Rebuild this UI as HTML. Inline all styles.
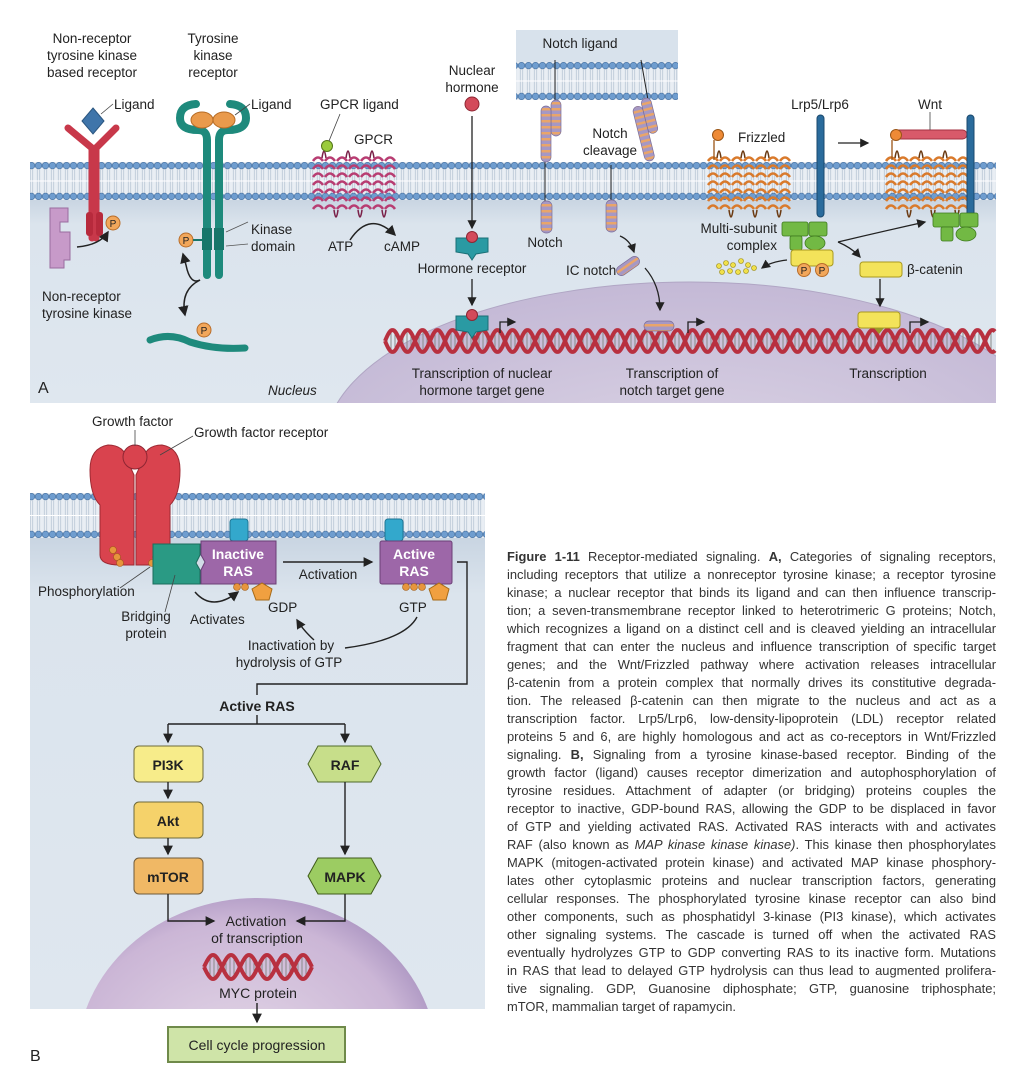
<!DOCTYPE html>
<html><head><meta charset="utf-8">
<style>
html,body{margin:0;padding:0;background:#fff;overflow:hidden;width:1016px;height:1086px;}
body{position:relative;font-family:"Liberation Sans",sans-serif;}
svg{position:absolute;left:0;top:0;}
svg text{font-family:"Liberation Sans",sans-serif;fill:#222;}
#caption{position:absolute;left:507px;top:548px;width:489px;font-size:12.9px;line-height:18px;color:#333;}
#caption div{text-align:justify;text-align-last:justify;white-space:nowrap;height:18px;overflow:hidden;}
#caption div.last{text-align-last:left;}
</style></head>
<body>
<svg width="1016" height="1086" viewBox="0 0 1016 1086">
<defs>
<g id="memtile">
<rect width="7" height="38" fill="#e9eef4"/>
<line x1="2.3" y1="6" x2="2.3" y2="32" stroke="#b9c6d4" stroke-width="0.8"/>
<line x1="4.7" y1="6" x2="4.7" y2="32" stroke="#b9c6d4" stroke-width="0.8"/>
<line x1="0" y1="19" x2="7" y2="19" stroke="#fff" stroke-width="1"/>
<circle cx="3.5" cy="3.6" r="3.3" fill="#6f9dcf" stroke="#456f9f" stroke-width="0.6"/>
<circle cx="3.5" cy="34.4" r="3.3" fill="#6f9dcf" stroke="#456f9f" stroke-width="0.6"/>
</g>
<pattern id="memA" x="0" y="162" width="7" height="38" patternUnits="userSpaceOnUse"><use href="#memtile"/></pattern>
<pattern id="memN" x="0" y="62" width="7" height="38" patternUnits="userSpaceOnUse"><use href="#memtile"/></pattern>
<pattern id="memB" x="0" y="493" width="7" height="45" patternUnits="userSpaceOnUse">
<rect width="7" height="45" fill="#e9eef4"/>
<line x1="2.3" y1="6" x2="2.3" y2="39" stroke="#b9c6d4" stroke-width="0.8"/>
<line x1="4.7" y1="6" x2="4.7" y2="39" stroke="#b9c6d4" stroke-width="0.8"/>
<line x1="0" y1="22.5" x2="7" y2="22.5" stroke="#fff" stroke-width="1"/>
<circle cx="3.5" cy="3.6" r="3.3" fill="#6f9dcf" stroke="#456f9f" stroke-width="0.6"/>
<circle cx="3.5" cy="41.4" r="3.3" fill="#6f9dcf" stroke="#456f9f" stroke-width="0.6"/>
</pattern>
<linearGradient id="cyto" x1="0" y1="0" x2="0" y2="1">
<stop offset="0" stop-color="#c9d5e2"/><stop offset="0.12" stop-color="#dbe4ed"/><stop offset="1" stop-color="#dfe7ef"/>
</linearGradient>
<radialGradient id="nucA" cx="0.5" cy="0.6" r="0.6">
<stop offset="0" stop-color="#ddd6e6"/><stop offset="1" stop-color="#c4b9d6"/>
</radialGradient>
<radialGradient id="nucB" cx="0.45" cy="0.55" r="0.6">
<stop offset="0" stop-color="#e6dbe9"/><stop offset="0.8" stop-color="#cbb6d6"/><stop offset="1" stop-color="#a993c0"/>
</radialGradient>
<marker id="ah" markerWidth="8" markerHeight="8" refX="6" refY="4" orient="auto"><path d="M0,0.5 L7,4 L0,7.5 z" fill="#222"/></marker>
<clipPath id="clipA"><rect x="30" y="200" width="966" height="203"/></clipPath>
<clipPath id="clipB"><rect x="30" y="538" width="455" height="471"/></clipPath>
<pattern id="stripes" width="10" height="6" patternUnits="userSpaceOnUse"><rect width="10" height="6" fill="#a698c4"/><rect y="0" width="10" height="2.5" fill="#e9a56a"/></pattern>
</defs>

<!-- ============ PANEL A ============ -->
<g>
<rect x="30" y="200" width="966" height="203" fill="url(#cyto)"/>
<g clip-path="url(#clipA)">
<ellipse cx="690" cy="445" rx="365" ry="163" fill="url(#nucA)" stroke="#b0a6c4" stroke-width="1"/>
</g>
<rect x="30" y="162" width="966" height="38" fill="url(#memA)"/>
<rect x="516" y="30" width="162" height="34" fill="#d8e2ec"/>
<rect x="516" y="62" width="162" height="38" fill="url(#memN)"/>
<g id="dnaA"></g>

<g>
<text x="92" y="43" font-size="13.5" text-anchor="middle">Non-receptor</text>
<text x="92" y="60" font-size="13.5" text-anchor="middle">tyrosine kinase</text>
<text x="92" y="77" font-size="13.5" text-anchor="middle">based receptor</text>
<path d="M68,128 L92,148 L92,238 M116,128 L96,148 L96,238" stroke="#c8384a" stroke-width="7" fill="none" stroke-linecap="round"/>
<rect x="86" y="212" width="7" height="24" rx="3" fill="#b72a3c"/><rect x="96" y="212" width="7" height="24" rx="3" fill="#b72a3c"/>
<path d="M93,108 L104,121 L93,134 L82,121 Z" fill="#3f75aa" stroke="#2b5680"/>
<line x1="101" y1="114" x2="113" y2="104" stroke="#444" stroke-width="0.8"/>
<text x="114" y="109" font-size="13.5">Ligand</text>
<path d="M50,208 L68,208 L68,222 L60,222 L60,232 L70,232 L70,260 L64,260 L64,268 L50,268 Z" fill="#c79ac9" stroke="#9a6c9f"/>
<circle cx="113" cy="223" r="7" fill="#f2a75b" stroke="#b86d2a"/><text x="113" y="227" font-size="10" text-anchor="middle">P</text>
<path d="M77,247 Q100,245 108,232" stroke="#222" stroke-width="1.5" fill="none" marker-end="url(#ah)"/>
<text x="42" y="301" font-size="13.5">Non-receptor</text>
<text x="42" y="318" font-size="13.5">tyrosine kinase</text>
</g>

<g>
<text x="213" y="43" font-size="13.5" text-anchor="middle">Tyrosine</text>
<text x="213" y="60" font-size="13.5" text-anchor="middle">kinase</text>
<text x="213" y="77" font-size="13.5" text-anchor="middle">receptor</text>
<path d="M207,275 L207,140 Q207,130 198,130 Q180,130 180,118 Q180,105 196,104" stroke="#1e8a7c" stroke-width="8" fill="none" stroke-linecap="round"/>
<path d="M219,275 L219,140 Q219,130 228,130 Q246,130 246,118 Q246,105 230,104" stroke="#1e8a7c" stroke-width="8" fill="none" stroke-linecap="round"/>
<ellipse cx="202" cy="120" rx="11" ry="8" fill="#e99a4c" stroke="#b66b24"/>
<ellipse cx="224" cy="120" rx="11" ry="8" fill="#e99a4c" stroke="#b66b24"/>
<rect x="202" y="228" width="10" height="22" fill="#17766a"/><rect x="214" y="228" width="10" height="22" fill="#17766a"/>
<line x1="235" y1="115" x2="250" y2="104" stroke="#444" stroke-width="0.8"/>
<text x="251" y="109" font-size="13.5">Ligand</text>
<path d="M226,232 L248,222 M226,246 L248,244" stroke="#555" stroke-width="0.8"/>
<text x="251" y="234" font-size="13.5">Kinase</text>
<text x="251" y="251" font-size="13.5">domain</text>
<circle cx="186" cy="240" r="7" fill="#f2a75b" stroke="#b86d2a"/><text x="186" y="244" font-size="10" text-anchor="middle">P</text>
<line x1="193" y1="240" x2="202" y2="240" stroke="#17766a" stroke-width="2"/>
<path d="M200,280 Q190,285 186,265 L183,254" stroke="#222" stroke-width="1.5" fill="none" marker-end="url(#ah)"/>
<path d="M200,280 Q180,290 185,315" stroke="#222" stroke-width="1.5" fill="none" marker-end="url(#ah)"/>
<path d="M150,340 Q170,332 190,342 Q215,350 245,348" stroke="#1e8a7c" stroke-width="7" fill="none" stroke-linecap="round"/>
<circle cx="204" cy="330" r="7" fill="#f2a75b" stroke="#b86d2a"/><text x="204" y="334" font-size="10" text-anchor="middle">P</text>
</g>
<text x="38" y="393" font-size="16">A</text>
<text x="268" y="395" font-size="13.5" font-style="italic">Nucleus</text>

<g>
<g id="gpcrHelix"></g>
<circle cx="327" cy="146" r="5.5" fill="#9acb3c" stroke="#55761a"/>
<line x1="329" y1="141" x2="340" y2="114" stroke="#444" stroke-width="0.8"/>
<text x="320" y="109" font-size="13.5">GPCR ligand</text>
<text x="354" y="144" font-size="13.5">GPCR</text>
<path d="M350,240 Q370,210 395,235" stroke="#222" stroke-width="1.5" fill="none" marker-end="url(#ah)"/>
<text x="328" y="251" font-size="13.5">ATP</text>
<text x="384" y="251" font-size="13.5">cAMP</text>
</g>

<g>
<text x="472" y="75" font-size="13.5" text-anchor="middle">Nuclear</text>
<text x="472" y="92" font-size="13.5" text-anchor="middle">hormone</text>
<circle cx="472" cy="104" r="7" fill="#d34a5a" stroke="#8e2633"/>
<line x1="472" y1="116" x2="472" y2="228" stroke="#222" stroke-width="1.3" marker-end="url(#ah)"/>
<path d="M456,238 L488,238 L488,252 L476,254 L472,260 L468,254 L456,252 Z" fill="#2a9aa3" stroke="#1b6f76"/>
<circle cx="472" cy="237" r="5.5" fill="#d34a5a" stroke="#8e2633"/>
<text x="472" y="273" font-size="13.5" text-anchor="middle">Hormone receptor</text>
<line x1="472" y1="279" x2="472" y2="305" stroke="#222" stroke-width="1.3" marker-end="url(#ah)"/>
<path d="M456,316 L488,316 L488,330 L476,332 L472,338 L468,332 L456,330 Z" fill="#2a9aa3" stroke="#1b6f76"/>
<circle cx="472" cy="315" r="5.5" fill="#d34a5a" stroke="#8e2633"/>
<path d="M500,333 L500,322 L515,322" stroke="#222" stroke-width="1.3" fill="none" marker-end="url(#ah)"/>
<text x="482" y="378" font-size="13.5" text-anchor="middle">Transcription of nuclear</text>
<text x="482" y="395" font-size="13.5" text-anchor="middle">hormone target gene</text>
</g>

<g>
<text x="580" y="48" font-size="13.5" text-anchor="middle">Notch ligand</text>
<line x1="555" y1="60" x2="555" y2="102" stroke="#222" stroke-width="1"/>
<line x1="545" y1="160" x2="545" y2="202" stroke="#222" stroke-width="1"/>
<rect x="551" y="100" width="10" height="36" rx="5" fill="url(#stripes)" stroke="#7a6e9a" stroke-width="0.7"/>
<rect x="541" y="106" width="10" height="56" rx="5" fill="url(#stripes)" stroke="#7a6e9a" stroke-width="0.7"/>
<rect x="541" y="201" width="11" height="32" rx="5" fill="url(#stripes)" stroke="#7a6e9a" stroke-width="0.7"/>
<text x="545" y="247" font-size="13.5" text-anchor="middle">Notch</text>
<line x1="641" y1="60" x2="648" y2="100" stroke="#222" stroke-width="1"/>
<g transform="rotate(-14 650 130)">
<rect x="648" y="98" width="10" height="36" rx="5" fill="url(#stripes)" stroke="#7a6e9a" stroke-width="0.7"/>
<rect x="638" y="104" width="10" height="56" rx="5" fill="url(#stripes)" stroke="#7a6e9a" stroke-width="0.7"/>
</g>
<text x="610" y="138" font-size="13.5" text-anchor="middle">Notch</text>
<text x="610" y="155" font-size="13.5" text-anchor="middle">cleavage</text>
<line x1="611" y1="165" x2="611" y2="202" stroke="#222" stroke-width="1"/>
<rect x="606" y="200" width="11" height="32" rx="5" fill="url(#stripes)" stroke="#7a6e9a" stroke-width="0.7"/>
<path d="M620,236 Q630,240 634,252" stroke="#222" stroke-width="1.3" fill="none" marker-end="url(#ah)"/>
<rect x="615" y="261" width="26" height="10" rx="5" fill="url(#stripes)" stroke="#7a6e9a" stroke-width="0.7" transform="rotate(-35 628 266)"/>
<text x="566" y="275" font-size="13.5">IC notch</text>
<path d="M645,268 Q660,285 660,310" stroke="#222" stroke-width="1.3" fill="none" marker-end="url(#ah)"/>
<rect x="644" y="321" width="30" height="10" rx="5" fill="url(#stripes)" stroke="#7a6e9a" stroke-width="0.7"/>
<path d="M688,333 L688,322 L704,322" stroke="#222" stroke-width="1.3" fill="none" marker-end="url(#ah)"/>
<text x="672" y="378" font-size="13.5" text-anchor="middle">Transcription of</text>
<text x="672" y="395" font-size="13.5" text-anchor="middle">notch target gene</text>
</g>

<g>
<g id="frzHelix"></g>
<g id="frzHelix2"></g>
<circle cx="718" cy="135" r="5.5" fill="#ee8a36" stroke="#9a5515"/>
<line x1="714" y1="140" x2="714" y2="160" stroke="#9a5515" stroke-width="1.3"/>
<text x="738" y="142" font-size="13.5">Frizzled</text>
<rect x="817" y="115" width="7" height="102" rx="3.5" fill="#2a6b9c" stroke="#1b4a6e"/>
<text x="820" y="109" font-size="13.5" text-anchor="middle">Lrp5/Lrp6</text>
<line x1="838" y1="143" x2="868" y2="143" stroke="#222" stroke-width="1.3" marker-end="url(#ah)"/>
<rect x="892" y="130" width="75" height="9" rx="4.5" fill="#d85a6a" stroke="#a33242"/>
<circle cx="896" cy="135" r="5.5" fill="#ee8a36" stroke="#9a5515"/>
<line x1="892" y1="140" x2="892" y2="160" stroke="#9a5515" stroke-width="1.3"/>
<rect x="967" y="115" width="7" height="102" rx="3.5" fill="#2a6b9c" stroke="#1b4a6e"/>
<line x1="930" y1="112" x2="930" y2="130" stroke="#444" stroke-width="0.8"/>
<text x="930" y="109" font-size="13.5" text-anchor="middle">Wnt</text>
<text x="777" y="233" font-size="13.5" text-anchor="end">Multi-subunit</text>
<text x="777" y="250" font-size="13.5" text-anchor="end">complex</text>
<g stroke="#3e7a1e" stroke-width="0.8" fill="#72b944">
<rect x="782" y="222" width="26" height="14" rx="2"/><rect x="809" y="222" width="18" height="14" rx="2"/>
<rect x="790" y="236" width="12" height="14" rx="2"/><ellipse cx="815" cy="243" rx="10" ry="7"/>
<rect x="933" y="213" width="26" height="14" rx="2"/><rect x="960" y="213" width="18" height="14" rx="2"/>
<rect x="941" y="227" width="12" height="14" rx="2"/><ellipse cx="966" cy="234" rx="10" ry="7"/>
</g>
<rect x="791" y="250" width="42" height="16" rx="3" fill="#f3e35a" stroke="#a8981e"/>
<circle cx="804" cy="270" r="6.5" fill="#f2a75b" stroke="#b86d2a"/><text x="804" y="274" font-size="10" text-anchor="middle">P</text>
<circle cx="822" cy="270" r="6.5" fill="#f2a75b" stroke="#b86d2a"/><text x="822" y="274" font-size="10" text-anchor="middle">P</text>
<g fill="#f0e04a" stroke="#9a8a14" stroke-width="0.6">
<circle cx="719" cy="266" r="2.5"/><circle cx="726" cy="263" r="2.5"/><circle cx="733" cy="265" r="2.5"/><circle cx="741" cy="261" r="2.5"/><circle cx="748" cy="265" r="2.5"/>
<circle cx="722" cy="272" r="2.5"/><circle cx="730" cy="271" r="2.5"/><circle cx="738" cy="272" r="2.5"/><circle cx="746" cy="271" r="2.5"/><circle cx="754" cy="268" r="2.5"/>
</g>
<path d="M787,260 Q770,262 762,268" stroke="#222" stroke-width="1.3" fill="none" marker-end="url(#ah)"/>
<path d="M838,242 Q880,232 925,222" stroke="#222" stroke-width="1.3" fill="none" marker-end="url(#ah)"/>
<path d="M838,242 Q852,248 860,257" stroke="#222" stroke-width="1.3" fill="none" marker-end="url(#ah)"/>
<rect x="860" y="262" width="42" height="15" rx="3" fill="#f3e35a" stroke="#a8981e"/>
<text x="907" y="274" font-size="13.5">β-catenin</text>
<line x1="880" y1="279" x2="880" y2="306" stroke="#222" stroke-width="1.3" marker-end="url(#ah)"/>
<rect x="858" y="312" width="42" height="16" rx="3" fill="#f3e35a" stroke="#a8981e"/>
<path d="M874,328 L884,328 L879,334 Z" fill="#9a9a2a"/>
<path d="M910,333 L910,322 L928,322" stroke="#222" stroke-width="1.3" fill="none" marker-end="url(#ah)"/>
<text x="888" y="378" font-size="13.5" text-anchor="middle">Transcription</text>
</g>
</g>

<!-- ============ PANEL B ============ -->
<g>
<rect x="30" y="538" width="455" height="471" fill="url(#cyto)"/>
<g clip-path="url(#clipB)">
<ellipse cx="257" cy="1060" rx="180" ry="162" fill="url(#nucB)"/>
</g>
<rect x="30" y="493" width="455" height="45" fill="url(#memB)"/>

<g>
<path d="M100,555 L100,505 Q90,495 90,470 Q90,448 108,445 Q125,445 128,462 L134,475 L134,565 L120,565 Q100,565 100,555 Z" fill="#d9434e" stroke="#9e2a33"/>
<path d="M170,555 L170,505 Q180,495 180,470 Q180,448 162,445 Q145,445 142,462 L136,475 L136,565 L150,565 Q170,565 170,555 Z" fill="#d9434e" stroke="#9e2a33"/>
<circle cx="135" cy="457" r="12" fill="#d9434e" stroke="#8e2633"/>
<line x1="135" y1="430" x2="135" y2="446" stroke="#444" stroke-width="0.8"/>
<text x="92" y="426" font-size="13.5">Growth factor</text>
<line x1="160" y1="455" x2="193" y2="436" stroke="#444" stroke-width="0.8"/>
<text x="194" y="437" font-size="13.5">Growth factor receptor</text>
<g fill="#e7953c" stroke="#9e5a18" stroke-width="0.6">
<circle cx="113" cy="550" r="3.5"/><circle cx="117" cy="557" r="3.5"/><circle cx="120" cy="563" r="3.5"/>
<circle cx="160" cy="550" r="3.5"/><circle cx="156" cy="557" r="3.5"/><circle cx="152" cy="563" r="3.5"/>
</g>
<line x1="150" y1="567" x2="120" y2="588" stroke="#444" stroke-width="0.8"/>
<text x="38" y="596" font-size="13.5">Phosphorylation</text>
</g>

<g>
<path d="M153,544 L200,544 L200,555 L196,563 L200,570 L200,584 L153,584 Z" fill="#2a9a84" stroke="#1b6c5c"/>
<line x1="175" y1="575" x2="165" y2="612" stroke="#444" stroke-width="0.8"/>
<text x="146" y="621" font-size="13.5" text-anchor="middle">Bridging</text>
<text x="146" y="638" font-size="13.5" text-anchor="middle">protein</text>
<rect x="230" y="519" width="18" height="22" rx="3" fill="#33a8cc" stroke="#1f7695"/>
<path d="M201,541 L276,541 L276,584 L201,584 L201,570 L205,562 L201,555 Z" fill="#9d67a8" stroke="#6b3f76"/>
<text x="238" y="559" font-size="14" font-weight="bold" style="fill:#fff" text-anchor="middle">Inactive</text>
<text x="238" y="576" font-size="14" font-weight="bold" style="fill:#fff" text-anchor="middle">RAS</text>
<circle cx="237" cy="587" r="3.5" fill="#e7953c" stroke="#9e5a18" stroke-width="0.6"/>
<circle cx="245" cy="587" r="3.5" fill="#e7953c" stroke="#9e5a18" stroke-width="0.6"/>
<path d="M252,589 L262,583 L272,589 L269,600 L256,600 Z" fill="#f0a040" stroke="#a66a18"/>
<path d="M195,592 Q212,612 238,592" stroke="#222" stroke-width="1.5" fill="none" marker-end="url(#ah)"/>
<text x="190" y="624" font-size="13.5">Activates</text>
<text x="268" y="612" font-size="13.5">GDP</text>
<line x1="283" y1="562" x2="372" y2="562" stroke="#222" stroke-width="1.4" marker-end="url(#ah)"/>
<text x="328" y="579" font-size="13.5" text-anchor="middle">Activation</text>
<rect x="385" y="519" width="18" height="22" rx="3" fill="#33a8cc" stroke="#1f7695"/>
<rect x="380" y="541" width="72" height="43" rx="2" fill="#9d67a8" stroke="#6b3f76"/>
<text x="414" y="559" font-size="14" font-weight="bold" style="fill:#fff" text-anchor="middle">Active</text>
<text x="414" y="576" font-size="14" font-weight="bold" style="fill:#fff" text-anchor="middle">RAS</text>
<circle cx="406" cy="587" r="3.5" fill="#e7953c" stroke="#9e5a18" stroke-width="0.6"/>
<circle cx="414" cy="587" r="3.5" fill="#e7953c" stroke="#9e5a18" stroke-width="0.6"/>
<circle cx="422" cy="587" r="3.5" fill="#e7953c" stroke="#9e5a18" stroke-width="0.6"/>
<path d="M429,589 L439,583 L449,589 L446,600 L433,600 Z" fill="#f0a040" stroke="#a66a18"/>
<text x="399" y="612" font-size="13.5">GTP</text>
<path d="M417,617 Q405,640 345,648" stroke="#222" stroke-width="1.4" fill="none"/>
<path d="M314,640 Q303,630 297,620" stroke="#222" stroke-width="1.4" fill="none" marker-end="url(#ah)"/>
<text x="291" y="650" font-size="13.5" text-anchor="middle">Inactivation by</text>
<text x="289" y="667" font-size="13.5" text-anchor="middle">hydrolysis of GTP</text>
<path d="M457,562 L467,562 L467,684 L257,684 L257,695" stroke="#222" stroke-width="1.4" fill="none"/>
<text x="257" y="711" font-size="14" font-weight="bold" text-anchor="middle">Active RAS</text>
</g>

<g>
<path d="M257,715 L257,724 M168,724 L345,724" stroke="#222" stroke-width="1.4" fill="none"/>
<line x1="168" y1="724" x2="168" y2="742" stroke="#222" stroke-width="1.4" marker-end="url(#ah)"/>
<line x1="345" y1="724" x2="345" y2="742" stroke="#222" stroke-width="1.4" marker-end="url(#ah)"/>
<rect x="134" y="746" width="69" height="36" rx="5" fill="#f7ec8a" stroke="#6e6a3a"/>
<text x="168" y="770" font-size="14" font-weight="bold" text-anchor="middle">PI3K</text>
<line x1="168" y1="782" x2="168" y2="798" stroke="#222" stroke-width="1.4" marker-end="url(#ah)"/>
<rect x="134" y="802" width="69" height="36" rx="5" fill="#f5d26a" stroke="#6e6a3a"/>
<text x="168" y="826" font-size="14" font-weight="bold" text-anchor="middle">Akt</text>
<line x1="168" y1="838" x2="168" y2="854" stroke="#222" stroke-width="1.4" marker-end="url(#ah)"/>
<rect x="134" y="858" width="69" height="36" rx="5" fill="#f0b865" stroke="#6e5a3a"/>
<text x="168" y="882" font-size="14" font-weight="bold" text-anchor="middle">mTOR</text>
<path d="M318,746 L371,746 L381,764 L371,782 L318,782 L308,764 Z" fill="#c7de8a" stroke="#4f6a2a"/>
<text x="345" y="770" font-size="14" font-weight="bold" text-anchor="middle">RAF</text>
<line x1="345" y1="782" x2="345" y2="854" stroke="#222" stroke-width="1.4" marker-end="url(#ah)"/>
<path d="M318,858 L371,858 L381,876 L371,894 L318,894 L308,876 Z" fill="#9ccc62" stroke="#3f5a1a"/>
<text x="345" y="882" font-size="14" font-weight="bold" text-anchor="middle">MAPK</text>
<path d="M168,894 L168,921 L214,921" stroke="#222" stroke-width="1.4" fill="none" marker-end="url(#ah)"/>
<path d="M345,894 L345,921 L297,921" stroke="#222" stroke-width="1.4" fill="none" marker-end="url(#ah)"/>
<text x="256" y="926" font-size="14" text-anchor="middle">Activation</text>
<text x="257" y="943" font-size="14" text-anchor="middle">of transcription</text>
<g id="dnaB"></g>
<text x="258" y="998" font-size="14" text-anchor="middle">MYC protein</text>
<line x1="257" y1="1003" x2="257" y2="1022" stroke="#222" stroke-width="1.4" marker-end="url(#ah)"/>
<rect x="168" y="1027" width="177" height="35" fill="#cfe4a8" stroke="#6f8a4a" stroke-width="2"/>
<text x="257" y="1050" font-size="14" text-anchor="middle">Cell cycle progression</text>
</g>
<text x="30" y="1061" font-size="16">B</text>
</g>
</svg>

<div id="caption">
<div><b>Figure 1-11</b> Receptor-mediated signaling. <b>A,</b> Categories of signaling receptors,</div>
<div>including receptors that utilize a nonreceptor tyrosine kinase; a receptor tyrosine</div>
<div>kinase; a nuclear receptor that binds its ligand and can then influence transcrip-</div>
<div>tion; a seven-transmembrane receptor linked to heterotrimeric G proteins; Notch,</div>
<div>which recognizes a ligand on a distinct cell and is cleaved yielding an intracellular</div>
<div>fragment that can enter the nucleus and influence transcription of specific target</div>
<div>genes; and the Wnt/Frizzled pathway where activation releases intracellular</div>
<div>β-catenin from a protein complex that normally drives its constitutive degrada-</div>
<div>tion. The released β-catenin can then migrate to the nucleus and act as a</div>
<div>transcription factor. Lrp5/Lrp6, low-density-lipoprotein (LDL) receptor related</div>
<div>proteins 5 and 6, are highly homologous and act as co-receptors in Wnt/Frizzled</div>
<div>signaling. <b>B,</b> Signaling from a tyrosine kinase-based receptor. Binding of the</div>
<div>growth factor (ligand) causes receptor dimerization and autophosphorylation of</div>
<div>tyrosine residues. Attachment of adapter (or bridging) proteins couples the</div>
<div>receptor to inactive, GDP-bound RAS, allowing the GDP to be displaced in favor</div>
<div>of GTP and yielding activated RAS. Activated RAS interacts with and activates</div>
<div>RAF (also known as <i>MAP kinase kinase kinase)</i>. This kinase then phosphorylates</div>
<div>MAPK (mitogen-activated protein kinase) and activated MAP kinase phosphory-</div>
<div>lates other cytoplasmic proteins and nuclear transcription factors, generating</div>
<div>cellular responses. The phosphorylated tyrosine kinase receptor can also bind</div>
<div>other components, such as phosphatidyl 3-kinase (PI3 kinase), which activates</div>
<div>other signaling systems. The cascade is turned off when the activated RAS</div>
<div>eventually hydrolyzes GTP to GDP converting RAS to its inactive form. Mutations</div>
<div>in RAS that lead to delayed GTP hydrolysis can thus lead to augmented prolifera-</div>
<div>tive signaling. GDP, Guanosine diphosphate; GTP, guanosine triphosphate;</div>
<div class="last">mTOR, mammalian target of rapamycin.</div>
</div>

<script>
var NS = 'http://www.w3.org/2000/svg';
function helixPath(x0, x1, yc, amp, period, phase) {
  var d = '';
  for (var x = x0; x <= x1; x += 1) {
    var y = yc + amp * Math.sin((x - x0) / period * 2 * Math.PI + phase);
    d += (x === x0 ? 'M' : 'L') + x + ',' + y.toFixed(1);
  }
  return d;
}
function drawDNA(g, x0, x1, yc, amp, period) {
  for (var x = x0 + 2; x < x1; x += 4) {
    var t = (x - x0) / period * 2 * Math.PI;
    var l = document.createElementNS(NS, 'line');
    l.setAttribute('x1', x); l.setAttribute('x2', x);
    l.setAttribute('y1', yc + amp * Math.sin(t)); l.setAttribute('y2', yc + amp * Math.sin(t + Math.PI));
    l.setAttribute('stroke', '#8a8a8a'); l.setAttribute('stroke-width', '1');
    g.appendChild(l);
  }
  [0, Math.PI].forEach(function (ph) {
    var p = document.createElementNS(NS, 'path');
    p.setAttribute('d', helixPath(x0, x1, yc, amp, period, ph));
    p.setAttribute('fill', 'none'); p.setAttribute('stroke', '#b8303f'); p.setAttribute('stroke-width', '4');
    g.appendChild(p);
  });
}
drawDNA(document.getElementById('dnaA'), 385, 995, 341, 11, 30);
drawDNA(document.getElementById('dnaB'), 204, 312, 967, 12, 36);

function drawHelices(g, xs, top, bottom, color, dark) {
  xs.forEach(function (x, i) {
    var d = '';
    for (var y = top; y <= bottom; y += 8) {
      d += 'M' + (x - 5) + ',' + (y + 3) + ' Q' + x + ',' + (y - 4) + ' ' + (x + 5) + ',' + (y + 3) + ' ';
    }
    var p = document.createElementNS(NS, 'path');
    p.setAttribute('d', d); p.setAttribute('fill', 'none');
    p.setAttribute('stroke', color); p.setAttribute('stroke-width', '2.6');
    g.appendChild(p);
    if (i < xs.length - 1) {
      var loop = document.createElementNS(NS, 'path');
      var up = (i % 2 === 0);
      var yy = up ? top : bottom + 4;
      var nx = xs[i + 1];
      loop.setAttribute('d', 'M' + (x + 4) + ',' + yy + ' Q' + ((x + nx) / 2) + ',' + (up ? yy - 14 : yy + 14) + ' ' + (nx - 4) + ',' + yy);
      loop.setAttribute('fill', 'none'); loop.setAttribute('stroke', dark); loop.setAttribute('stroke-width', '1.5');
      g.appendChild(loop);
    }
  });
}
drawHelices(document.getElementById('gpcrHelix'), [318, 330, 342, 354, 366, 378, 390], 158, 206, '#b83d72', '#7a2048');
drawHelices(document.getElementById('frzHelix'), [713, 725, 737, 749, 761, 773, 785], 158, 206, '#d97a2c', '#6b3a12');
drawHelices(document.getElementById('frzHelix2'), [891, 903, 915, 927, 939, 951, 963], 158, 206, '#d97a2c', '#6b3a12');
</script>
</body></html>
